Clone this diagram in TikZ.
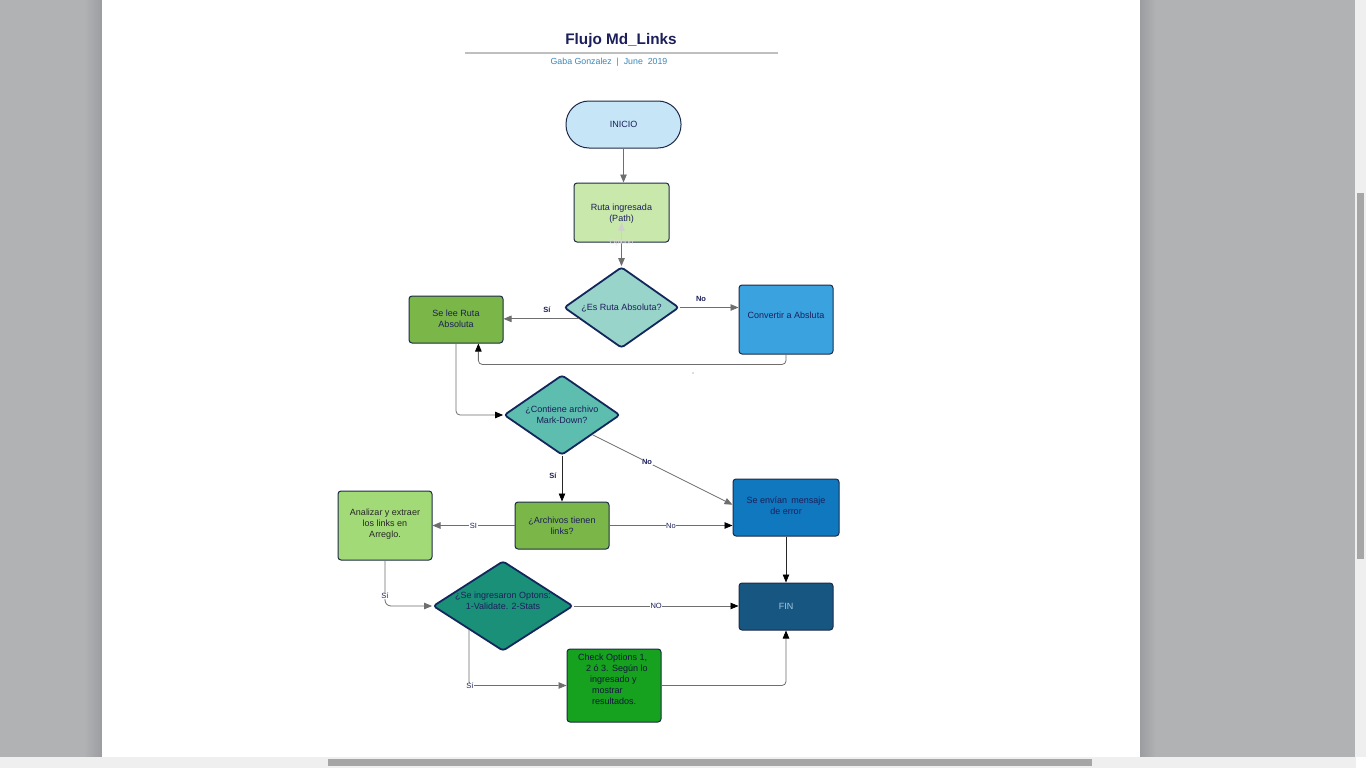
\documentclass[tikz,border=0pt]{standalone}
\usepackage{fontspec}
\setmainfont{Liberation Sans}
\usetikzlibrary{shapes.geometric,arrows.meta,calc}
\definecolor{bgray}{HTML}{B1B2B4}
\definecolor{bshadow}{HTML}{9C9DA0}
\definecolor{track}{HTML}{EFEFEF}
\definecolor{thumb}{HTML}{A6A6A6}
\definecolor{navytxt}{HTML}{1C1F5A}
\definecolor{subblue}{HTML}{3A88B8}
\definecolor{bord}{HTML}{1E2A48}
\definecolor{dbord}{HTML}{13275C}
\definecolor{cini}{HTML}{C6E5F7}
\definecolor{cruta}{HTML}{C9E8AC}
\definecolor{cdone}{HTML}{98D4C9}
\definecolor{cselee}{HTML}{7AB648}
\definecolor{cconv}{HTML}{3AA3DF}
\definecolor{cdtwo}{HTML}{5DBDAE}
\definecolor{csen}{HTML}{0F78BF}
\definecolor{canal}{HTML}{A3DA78}
\definecolor{cdthree}{HTML}{1A9079}
\definecolor{cfin}{HTML}{175680}
\definecolor{tfin}{HTML}{A2C8E2}
\definecolor{ccheck}{HTML}{16A11E}
\definecolor{lgray}{HTML}{6E6E6E}
\definecolor{faint}{HTML}{CFCFCF}
\tikzset{
  boxnode/.style={draw=bord, line width=1pt, rounded corners=3pt, align=center,
    font=\fontsize{9}{11}\selectfont, text=navytxt, inner sep=1pt},
  dianode/.style={diamond, draw=dbord, line width=1.8pt, rounded corners=3pt, inner sep=0pt},
  diatext/.style={align=center, font=\fontsize{9}{11}\selectfont, text=navytxt, inner sep=0pt},
  garr/.style={draw=lgray, line width=0.8pt, -{Triangle[length=8pt,width=6.5pt,color=lgray]}},
  barr/.style={draw=lgray, line width=0.8pt, -{Triangle[length=8pt,width=6.5pt,color=black]}},
  blabel/.style={font=\bfseries\fontsize{7.5}{9}\selectfont, text=navytxt, inner sep=1pt},
  onlabel/.style={font=\fontsize{7.5}{9}\selectfont, text=navytxt, fill=white, inner sep=0.5pt},
}
\begin{document}
\begin{tikzpicture}[x=1pt,y=-1pt]
\useasboundingbox (0,0) rectangle (1366,768);
% background window
\fill[bgray] (0,0) rectangle (1366,768);
\shade[left color=bgray, right color=bshadow] (84,0) rectangle (102,757);
\shade[left color=bshadow, right color=bgray] (1140,0) rectangle (1156,757);
\fill[white] (102,0) rectangle (1140,757);
\fill[track] (1355,0) rectangle (1366,757);
\fill[thumb] (1357,193) rectangle (1364,559);
\fill[track] (0,757) rectangle (1356,768);
\fill[white] (1356,757) rectangle (1366,768);
\fill[thumb] (328,759) rectangle (1092,766);
% title
\node[font=\bfseries\fontsize{15.3}{18}\selectfont, text=navytxt] (title) at (621,41) {Flujo Md\_Links};
\draw[draw=faint!80!gray, line width=1.1pt] (465,53) coordinate (tl1) -- (778,53) coordinate (tl2);
\node[font=\fontsize{8.8}{10}\selectfont, text=subblue] (sub) at (609,62) {Gaba Gonzalez \;|\; June \;2019};
% nodes
\node[boxnode, fill=cini, rounded corners=23pt, minimum width=115pt, minimum height=47pt] (ini) at (623.5,124.5) {INICIO};
\node[boxnode, fill=cruta, minimum width=95pt, minimum height=59pt] (ruta) at (621.5,212.5) {};
\node[diatext] (rutat) at ($(ruta.center)+(0,1)$) {Ruta ingresada\\(Path)};
\node[dianode, fill=cdone, minimum width=115pt, minimum height=81pt] (d1) at (621.5,307.5) {};
\node[diatext] (d1t) at ($(d1.center)+(0,0.5)$) {¿Es Ruta Absoluta?};
\node[boxnode, fill=cselee, minimum width=94pt, minimum height=47pt] (selee) at (456,319.5) {};
\node[diatext] (seleet) at ($(selee.center)+(0,-1)$) {Se lee Ruta\\Absoluta};
\node[boxnode, fill=cconv, minimum width=94pt, minimum height=69pt] (conv) at (786,319.5) {};
\node[diatext] (convt) at ($(conv.center)+(0,-4)$) {Convertir a Absluta};
\node[dianode, fill=cdtwo, minimum width=116pt, minimum height=80pt] (d2) at (562,415) {};
\node[diatext] (d2t) at (d2.center) {¿Contiene archivo\\Mark-Down?};
\node[boxnode, fill=csen, minimum width=106pt, minimum height=57pt] (sen) at (786,507.5) {};
\node[diatext] (sent) at ($(sen.center)+(0,-2)$) {Se envían \,mensaje\\de error};
\node[boxnode, fill=cselee, minimum width=94pt, minimum height=47pt] (arch) at (562,525.5) {¿Archivos tienen\\links?};
\node[boxnode, fill=canal, text=black!85, minimum width=94pt, minimum height=69pt] (anal) at (385,525.5) {};
\node[diatext, text=black!85] (analt) at ($(anal.center)+(0,-1)$) {Analizar y extraer\\los links en\\Arreglo.};
\node[dianode, fill=cdthree, minimum width=140pt, minimum height=90pt] (d3) at (503,606) {};
\node[diatext] (d3t) at ($(d3.center)+(0,-5)$) {¿Se ingresaron Optons:\\1-Validate. 2-Stats};
\node[boxnode, fill=cfin, text=tfin, minimum width=94pt, minimum height=47pt] (fin) at (786,606.5) {FIN};
\node[boxnode, fill=ccheck, minimum width=94pt, minimum height=73pt] (check) at (614,685.5) {};
\node[diatext, align=left, anchor=north west, text=navytxt!70!black] (checkt) at (578,654)
  {Check Options 1,\\\hspace*{8pt}2 ó 3. Según lo\\\hspace*{12pt}ingresado y\\\hspace*{14pt}mostrar\\\hspace*{14pt}resultados.};
% connectors
\draw[garr] (ini.south) -- (ini.south |- ruta.north);
\coordinate (o1) at ($(ruta.south)+(0,-20)$);
\draw[draw=faint, line width=0.8pt, -{Triangle[length=8pt,width=6.5pt,color=faint]}] (ruta.south) -- (o1);
\draw[garr] (ruta.south) -- (d1.north);
\node[font=\fontsize{7.5}{9}\selectfont, text=faint!70!white, inner sep=0pt] (opc) at (ruta.south) {Opción};
\draw[garr] (d1.195) -- (d1.195 -| selee.east);
\node[blabel] (lsi1) at (547,310) {Sí};
\draw[garr] (d1.east) -- (d1.east -| conv.west);
\node[blabel] (lno1) at (701,299) {No};
\draw[barr, rounded corners=4pt] (conv.south) -- ++(0,10) -| (selee.-47);
\fill[lgray] (693,373) circle (0.6pt);
\draw[barr, rounded corners=4pt] (selee.south) |- (d2.west);
\draw[barr, draw=black!85] (d2.south) -- (d2.south |- arch.north);
\node[blabel] (lsi2) at (553,476) {Sí};
\draw[garr] (d2.-33) -- (sen.177) node[pos=0.39, onlabel, font=\bfseries\fontsize{7.5}{9}\selectfont] (lno2) {No};
\draw[garr] (arch.west) -- (anal.east) node[midway, onlabel] (lsi3) {SI};
\draw[barr] (arch.east) -- (arch.east -| sen.west) node[pos=0.5, onlabel] (lno3) {No};
\draw[barr, draw=black!85] (sen.south) -- (fin.north);
\draw[garr, rounded corners=6pt] (anal.south) |- (d3.west);
\node[onlabel] (lsi4) at (385,596) {Sí};
\draw[barr] (d3.east) -- (d3.east -| fin.west) node[pos=0.5, onlabel] (lno4) {NO};
\draw[garr, rounded corners=4pt] (d3.215) |- (check.west);
\node[onlabel] (lsi5) at (470,686) {Sí};
\draw[barr, rounded corners=4pt] (check.east) -| (fin.south);
\end{tikzpicture}
\end{document}
